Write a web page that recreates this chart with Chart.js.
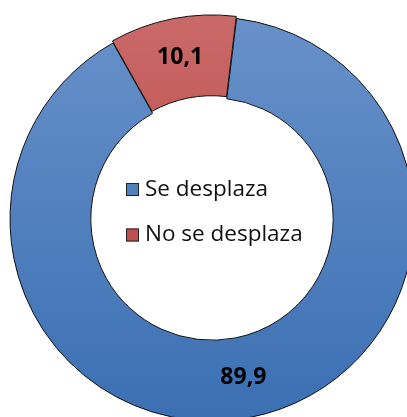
<!DOCTYPE html>
<html>
<head>
<meta charset="utf-8">
<script src="https://cdn.jsdelivr.net/npm/chart.js@4.4.0/dist/chart.umd.min.js"></script>
<style>
  html, body { margin: 0; padding: 0; background: #fff; overflow: hidden; }
  body { width: 407px; height: 417px; position: relative; }
  #wrap { position: absolute; left: -8px; top: -1px; width: 440px; height: 440px; }
</style>
</head>
<body>
<div id="wrap"><canvas id="graphCanvas" width="440" height="440"></canvas></div>
<script>
var labels = ["Se desplaza", "No se desplaza"];
var values = [89.9, 10.1];
var topColors = ["#6891c9", "#c96a68"];
var bottomColors = ["#3b6fb3", "#b8393a"];
var flatColors = ["#4f81bd", "#c0504d"];

function fmt(v) {
  return v.toFixed(1).replace(".", ",");
}

function fillFor(ctx) {
  var chart = ctx.chart;
  var area = chart.chartArea;
  if (!area) return flatColors[ctx.dataIndex];
  var cy = (area.top + area.bottom) / 2;
  var g = chart.ctx.createLinearGradient(0, cy - 205, 0, cy + 205);
  g.addColorStop(0, topColors[ctx.dataIndex]);
  g.addColorStop(1, bottomColors[ctx.dataIndex]);
  return g;
}

var valueLabels = {
  id: "valueLabels",
  afterDatasetsDraw: function (chart) {
    var c = chart.ctx;
    var meta = chart.getDatasetMeta(0);
    c.save();
    c.font = "bold 23px 'Open Sans', sans-serif";
    c.fillStyle = "#000";
    c.textAlign = "center";
    c.textBaseline = "middle";
    meta.data.forEach(function (arc, i) {
      var p = arc.tooltipPosition();
      c.fillText(fmt(values[i]), p.x, p.y);
    });
    c.restore();
  }
};

var centerLegend = {
  id: "centerLegend",
  afterDraw: function (chart) {
    var c = chart.ctx;
    var area = chart.chartArea;
    var cx = (area.left + area.right) / 2;
    var cy = (area.top + area.bottom) / 2;
    var rows = [-29.5, 16];
    c.save();
    c.font = "22.5px 'Open Sans', sans-serif";
    c.textBaseline = "middle";
    c.textAlign = "left";
    for (var i = 0; i < labels.length; i++) {
      var y = cy + rows[i];
      c.fillStyle = flatColors[i];
      c.fillRect(cx - 86, y - 6.5, 13, 13);
      c.strokeStyle = "#222";
      c.lineWidth = 1;
      c.strokeRect(cx - 86 + 0.5, y - 6.5 + 0.5, 12, 12);
      c.fillStyle = "#111";
      c.fillText(labels[i], cx - 67, y);
    }
    c.restore();
  }
};

new Chart(document.getElementById("graphCanvas"), {
  type: "doughnut",
  data: {
    labels: labels,
    datasets: [
      {
        data: values,
        backgroundColor: fillFor,
        borderColor: "#111",
        borderWidth: 1,
        offset: [0, 6]
      }
    ]
  },
  options: {
    responsive: false,
    animation: false,
    devicePixelRatio: 1,
    rotation: 7,
    radius: 202,
    cutout: "60%",
    layout: { padding: 0 },
    plugins: {
      legend: { display: false },
      tooltip: { enabled: false }
    }
  },
  plugins: [valueLabels, centerLegend]
});
</script>
</body>
</html>
